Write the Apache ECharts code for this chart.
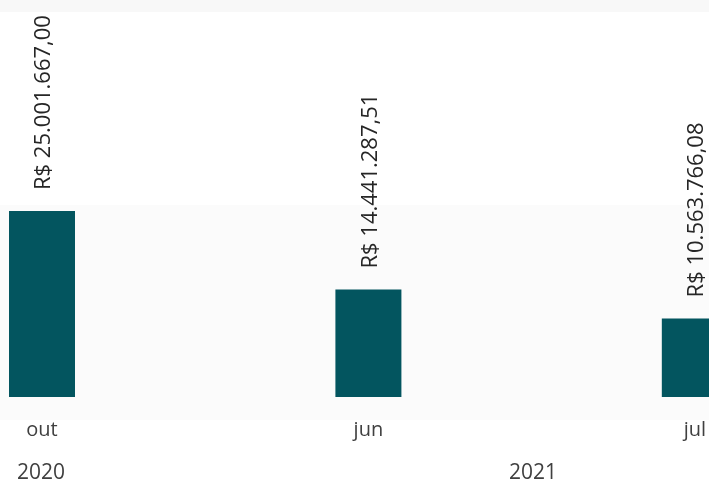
<!DOCTYPE html>
<html><head><meta charset="utf-8">
<script src="https://cdn.jsdelivr.net/npm/echarts@6/dist/echarts.min.js"></script>
<style>html,body{margin:0;padding:0;background:#fff}#c{width:709px;height:484px}</style>
</head><body><div id="c"></div>
<script>
const categories = ['out', 'jun', 'jul'];
const values = [25001667.00, 14441287.51, 10563766.08];
const years = ['2020', '2021'];

function fmt(v) {
  const parts = v.toFixed(2).split('.');
  const int = parts[0].replace(/\B(?=(\d{3})+(?!\d))/g, '.');
  return 'R$ ' + int + ',' + parts[1];
}

const chart = echarts.init(document.getElementById('c'), null, {renderer: 'canvas'});
chart.setOption({
  backgroundColor: '#ffffff',
  animation: false,
  grid: {left: 42, right: 5, top: 0, bottom: 87},
  xAxis: {
    type: 'category',
    data: categories,
    boundaryGap: false,
    axisLine: {show: false},
    axisTick: {show: false},
    axisLabel: {margin: 23, fontFamily: 'Open Sans', fontSize: 20, color: '#404040'}
  },
  yAxis: {
    type: 'value', min: 0, max: 53364000,
    show: false, splitLine: {show: false}
  },
  series: [{
    type: 'bar',
    data: values,
    barWidth: 66,
    clip: false,
    itemStyle: {color: '#03555F'},
    label: {
      show: true, position: 'top', rotate: 90, distance: 21,
      align: 'left', verticalAlign: 'middle',
      offset: [0, 2],
      fontFamily: 'Open Sans', fontSize: 22, color: '#262626',
      formatter: p => fmt(p.value)
    }
  }],
  graphic: [
    {type: 'rect', z: -10, silent: true, shape: {x: 0, y: 0, width: 709, height: 12}, style: {fill: '#f8f8f8'}},
    {type: 'rect', z: -10, silent: true, shape: {x: 0, y: 205, width: 709, height: 215}, style: {fill: '#fbfbfb'}},
    {type: 'text', left: 17, top: 463, style: {text: years[0], font: '21px "Open Sans"', fill: '#404040'}},
    {type: 'text', left: 509, top: 463, style: {text: years[1], font: '21px "Open Sans"', fill: '#404040'}}
  ]
});
</script></body></html>
